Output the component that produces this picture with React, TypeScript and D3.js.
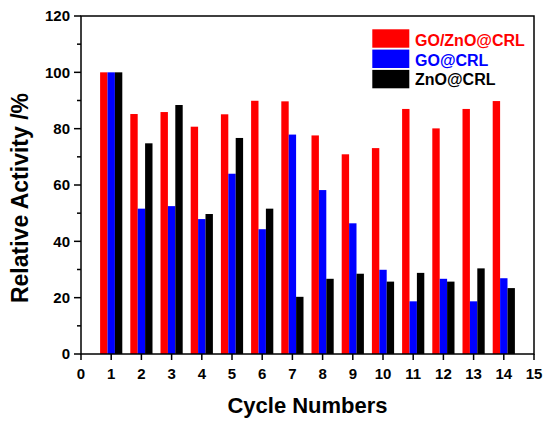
import React from "react";
import * as d3 from "d3";

const cycles = [1, 2, 3, 4, 5, 6, 7, 8, 9, 10, 11, 12, 13, 14];
const goZnO = [100, 85.2, 85.9, 80.7, 85.1, 89.9, 89.7, 77.6, 70.9, 73.1, 87.0, 80.1, 87.0, 89.8];
const goCRL = [100, 51.6, 52.5, 47.9, 64.0, 44.3, 77.9, 58.2, 46.4, 29.9, 18.7, 26.7, 18.7, 26.9];
const znoCRL = [100, 74.8, 88.4, 49.7, 76.7, 51.6, 20.3, 26.7, 28.5, 25.7, 28.8, 25.7, 30.4, 23.4];
const seriesNames = ["GO/ZnO@CRL", "GO@CRL", "ZnO@CRL"];
const seriesColors = ["#FF0000", "#0000FF", "#000000"];
const xTicks = d3.range(0, 16);
const yMajor = [0, 20, 40, 60, 80, 100, 120];
const yMinor = [10, 30, 50, 70, 90, 110];

const W = 550;
const H = 425;
const L = 81, R = 534, T = 16, B = 354;
const FONT = "'Liberation Sans', Arial, sans-serif";

export default function App() {
  const x = d3.scaleLinear().domain([0, 15]).range([L, R]);
  const y = d3.scaleLinear().domain([0, 120]).range([B, T]);
  const bw = 0.245;
  const series = [goZnO, goCRL, znoCRL];

  return (
    <svg width={W} height={H} style={{ position: "absolute", left: 0, top: 0 }} fontFamily={FONT}>
      <rect x={0} y={0} width={W} height={H} fill="#fff" />
      {series.map((vals, si) =>
        vals.map((v, i) => {
          const c = cycles[i];
          const x0 = x(c + (si - 1.5) * bw);
          const x1 = x(c + (si - 0.5) * bw);
          return (
            <rect key={`${si}-${i}`} x={x0} y={y(v)} width={x1 - x0} height={y(0) - y(v)} fill={seriesColors[si]} />
          );
        })
      )}
      {/* frame */}
      <rect x={L} y={T} width={R - L} height={B - T} fill="none" stroke="#000" strokeWidth={1.5} />
      {/* y ticks */}
      {yMajor.map((t) => (
        <g key={`ym${t}`}>
          <line x1={L - 7} x2={L} y1={y(t)} y2={y(t)} stroke="#000" strokeWidth={1.5} />
          <text x={L - 11} y={y(t)} dy="0.35em" textAnchor="end" fontSize={15} fontWeight="bold">{t}</text>
        </g>
      ))}
      {yMinor.map((t) => (
        <line key={`yn${t}`} x1={L - 4} x2={L} y1={y(t)} y2={y(t)} stroke="#000" strokeWidth={1.5} />
      ))}
      {/* x ticks */}
      {xTicks.map((t) => (
        <g key={`x${t}`}>
          <line x1={x(t)} x2={x(t)} y1={B} y2={B + 6} stroke="#000" strokeWidth={1.5} />
          <text x={x(t)} y={378.5} textAnchor="middle" fontSize={15} fontWeight="bold">{t}</text>
        </g>
      ))}
      <text x={(L + R) / 2} y={413} textAnchor="middle" fontSize={22} fontWeight="bold">Cycle Numbers</text>
      <text transform={`translate(28,198) rotate(-90)`} textAnchor="middle" fontSize={23} fontWeight="bold">Relative Activity /%</text>
      {/* legend */}
      {seriesNames.map((n, i) => (
        <g key={n}>
          <rect x={372.3} y={29.3 + i * 20.3} width={37} height={18.4} fill={seriesColors[i]} />
          <text x={415} y={46 + i * 19.7} fontSize={16} fontWeight="bold" fill={seriesColors[i]}>{n}</text>
        </g>
      ))}
    </svg>
  );
}
